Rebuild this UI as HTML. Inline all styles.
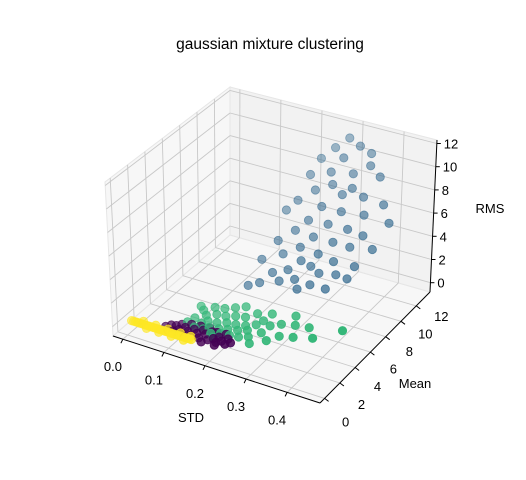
<!DOCTYPE html>
<html><head><meta charset="utf-8">
<style>
html,body{margin:0;padding:0;background:#fff;}
svg{display:block;font-family:"Liberation Sans",sans-serif;}
</style></head>
<body>
<svg id="chart" width="526" height="480" viewBox="0 0 526 480">
<text x="270" y="49" text-anchor="middle" font-size="15.5" fill="#000">gaussian mixture clustering</text>
<g id="panes"></g>
<g id="grid"></g>
<g id="axes"></g>
<g id="points"></g>
<text x="191" y="422" text-anchor="middle" font-size="13">STD</text>
<text x="415" y="388" text-anchor="middle" font-size="13">Mean</text>
<text x="490" y="213" text-anchor="middle" font-size="13">RMS</text>
</svg>
<script>
const xTicks = [0.0, 0.1, 0.2, 0.3, 0.4];
const xTickLabels = ["0.0","0.1","0.2","0.3","0.4"];
const yTicks = [0, 2, 4, 6, 8, 10, 12];
const yTickLabels = ["0","2","4","6","8","10","12"];
const zTicks = [0, 2, 4, 6, 8, 10, 12];
const zTickLabels = ["0","2","4","6","8","10","12"];

const bluePoints = [[0.30,12.2,11.8],[0.33,12.0,11.5],[0.28,11.5,11.2],[0.35,12.4,10.8],[0.31,11.0,10.9],[0.26,10.8,10.5],[0.36,11.8,10.2],[0.29,10.5,9.8],[0.33,11.2,9.6],[0.25,10.0,9.5],[0.38,12.0,9.3],[0.30,10.2,9.0],[0.34,10.6,8.8],[0.27,9.6,8.6],[0.32,10.4,8.2],[0.36,11.0,8.0],[0.24,9.0,7.8],[0.29,9.4,7.5],[0.40,11.5,7.4],[0.33,9.8,7.2],[0.22,8.6,7.0],[0.37,10.6,6.8],[0.27,8.8,6.5],[0.31,9.2,6.3],[0.42,11.2,6.2],[0.35,9.6,6.0],[0.25,8.2,5.8],[0.29,8.4,5.5],[0.38,10.0,5.5],[0.33,8.8,5.2],[0.22,7.6,5.0],[0.27,7.8,4.8],[0.36,9.4,4.7],[0.31,8.0,4.5],[0.40,10.2,4.4],[0.24,7.2,4.3],[0.28,7.4,4.0],[0.34,8.4,3.9],[0.20,6.6,3.8],[0.30,7.6,3.6],[0.38,9.0,3.5],[0.26,6.8,3.4],[0.32,7.6,3.2],[0.23,6.4,3.1],[0.35,8.2,3.0],[0.28,6.6,2.9],[0.25,6.2,2.7],[0.37,8.6,2.6],[0.31,7.0,2.5],[0.21,5.8,2.4],[0.29,6.4,2.3],[0.34,7.4,2.2],[0.19,5.4,2.2]];
const greenPoints = [[0.12,1.4,0.8],[0.13,1.8,1.0],[0.14,1.2,0.7],[0.15,1.6,0.9],[0.15,2.2,1.2],[0.16,1.3,0.7],[0.16,1.9,1.0],[0.17,2.5,1.3],[0.17,1.5,0.8],[0.18,2.0,1.0],[0.18,1.2,0.6],[0.19,2.6,1.3],[0.19,1.7,0.8],[0.20,2.2,1.1],[0.20,1.4,0.7],[0.21,2.8,1.4],[0.21,1.8,0.9],[0.22,2.3,1.1],[0.22,1.5,0.7],[0.23,3.0,1.4],[0.23,2.0,0.9],[0.24,2.5,1.1],[0.24,1.6,0.7],[0.25,2.2,1.0],[0.26,2.8,1.2],[0.26,1.8,0.8],[0.27,3.2,1.4],[0.28,2.4,1.0],[0.29,3.0,1.3],[0.30,2.0,0.8],[0.31,3.4,1.4],[0.32,2.6,1.0],[0.34,3.6,1.5],[0.35,2.8,1.1],[0.37,3.8,1.5],[0.39,3.2,1.2],[0.44,4.4,1.6],[0.14,2.4,1.4],[0.16,2.8,1.6],[0.18,3.0,1.6],[0.20,3.3,1.7],[0.13,2.6,1.5],[0.25,3.5,1.6],[0.28,3.8,1.7],[0.33,4.2,1.8],[0.22,3.6,1.8],[0.19,1.0,0.5],[0.27,1.4,0.6]];
const purplePoints = [[0.08,0.7,0.4],[0.09,0.9,0.5],[0.10,0.6,0.3],[0.10,1.0,0.5],[0.11,0.8,0.4],[0.12,1.1,0.5],[0.12,0.6,0.3],[0.13,0.9,0.4],[0.14,1.2,0.5],[0.14,0.7,0.3],[0.15,1.0,0.4],[0.16,1.3,0.6],[0.16,0.7,0.3],[0.17,1.1,0.5],[0.18,0.8,0.3],[0.18,1.4,0.6],[0.19,1.0,0.4],[0.20,1.2,0.5],[0.20,0.8,0.3],[0.21,1.0,0.4],[0.22,1.3,0.5],[0.22,0.9,0.3],[0.23,1.1,0.4],[0.11,1.2,0.6],[0.13,1.4,0.7],[0.15,1.5,0.7],[0.17,1.6,0.7],[0.19,1.5,0.6],[0.21,1.6,0.6],[0.09,0.5,0.3],[0.13,0.5,0.2],[0.17,0.5,0.2],[0.20,0.6,0.2]];
const yellowPoints = [[0.005,0.3,0.3],[0.010,0.3,0.3],[0.015,0.3,0.3],[0.020,0.3,0.3],[0.025,0.3,0.3],[0.030,0.3,0.3],[0.035,0.3,0.3],[0.040,0.3,0.3],[0.045,0.3,0.3],[0.050,0.3,0.3],[0.055,0.3,0.3],[0.060,0.3,0.3],[0.065,0.3,0.3],[0.070,0.3,0.3],[0.075,0.3,0.3],[0.080,0.3,0.3],[0.085,0.3,0.3],[0.090,0.3,0.3],[0.095,0.3,0.3],[0.100,0.3,0.3],[0.105,0.3,0.3],[0.110,0.3,0.3],[0.115,0.3,0.3],[0.120,0.3,0.3],[0.125,0.3,0.3],[0.130,0.3,0.3],[0.135,0.3,0.3],[0.140,0.3,0.3],[0.145,0.3,0.3],[0.150,0.3,0.3],[0.030,0.5,0.4],[0.060,0.5,0.4],[0.090,0.5,0.4],[0.120,0.5,0.4],[0.145,0.5,0.4],[0.045,0.1,0.2],[0.075,0.1,0.2],[0.105,0.1,0.2],[0.135,0.1,0.2]];

const NS = "http://www.w3.org/2000/svg";
const xMin=-0.024,xMax=0.48,yMin=-0.6,yMax=13.8,zMin=-0.8,zMax=12.3;
const C = {
 "000":[113,336],"100":[320,403],"110":[430,292],"010":[230,235],
 "001":[105,182],"101":[322,243],"111":[437,140],"011":[230,87]
};
function P(u,v,w){
  let x=0,y=0;
  for(const a of [0,1])for(const b of [0,1])for(const c of [0,1]){
    const f=(a?u:1-u)*(b?v:1-v)*(c?w:1-w);
    const p=C[""+a+b+c]; x+=f*p[0]; y+=f*p[1];
  }
  return [x,y];
}
const su=x=>(x-xMin)/(xMax-xMin), sv=y=>(y-yMin)/(yMax-yMin), sw=z=>(z-zMin)/(zMax-zMin);
function mk(tag,attrs,parent){const e=document.createElementNS(NS,tag);for(const k in attrs)e.setAttribute(k,attrs[k]);parent.appendChild(e);return e;}
function poly(pts){return pts.map(p=>p[0].toFixed(1)+","+p[1].toFixed(1)).join(" ");}

const panes=document.getElementById("panes");
let e;
e=mk("polygon",{points:poly([P(0,0,0),P(1,0,0),P(1,1,0),P(0,1,0)]),fill:"#f2f2f2","fill-opacity":"0.6",stroke:"#e6e6e6"},panes);


e=mk("polygon",{points:poly([P(0,0,0),P(0,1,0),P(0,1,1),P(0,0,1)]),fill:"#f2f2f2","fill-opacity":"0.6",stroke:"#e6e6e6"},panes);


e=mk("polygon",{points:poly([P(0,1,0),P(1,1,0),P(1,1,1),P(0,1,1)]),fill:"#ececec","fill-opacity":"0.7",stroke:"#e6e6e6"},panes);



const grid=document.getElementById("grid");
const gs={stroke:"#c8c8c8","stroke-width":"0.9",fill:"none"};
function gl(a,b,name){const l=mk("polyline",Object.assign({points:poly([a,b])},gs),grid);
  
  }
xTicks.forEach(t=>{const u=su(t);gl(P(u,0,0),P(u,1,0),"x-grid-line");gl(P(u,1,0),P(u,1,1),"x-grid-line");});
yTicks.forEach(t=>{const v=sv(t);gl(P(0,v,0),P(1,v,0),"y-grid-line");gl(P(0,v,0),P(0,v,1),"y-grid-line");});
zTicks.forEach(t=>{const w=sw(t);gl(P(0,0,w),P(0,1,w),"z-grid-line");gl(P(0,1,w),P(1,1,w),"z-grid-line");});

const axes=document.getElementById("axes");
function al(a,b,name){const l=mk("polyline",{points:poly([a,b]),stroke:"#000","stroke-width":"1",fill:"none"},axes);
  
  }
al(P(0,0,0),P(1,0,0),"x-axis-line");
al(P(1,0,0),P(1,1,0),"y-axis-line");
al(P(1,1,0),P(1,1,1),"z-axis-line");
function tl(x,y,s,anchor,name){const t=mk("text",{x:x.toFixed(1),y:y.toFixed(1),"font-size":"13","text-anchor":anchor,fill:"#000"},axes);t.textContent=s;
  
  }
xTicks.forEach((t,i)=>{const p=P(su(t),0,0);
  al(p,[p[0]-2,p[1]+4],"x-tick");
  tl(p[0]-10,p[1]+32,xTickLabels[i],"middle","x-tick-label");});
yTicks.forEach((t,i)=>{const p=P(1,sv(t),0);const f=t/12;
  al(p,[p[0]+4,p[1]+3],"y-tick");
  tl(p[0]+21+4*f,p[1]+28-13*f,yTickLabels[i],"middle","y-tick-label");});
zTicks.forEach((t,i)=>{const p=P(1,1,sw(t));
  al(p,[p[0]+4,p[1]],"z-tick");
  tl(p[0]+7,p[1]+5,zTickLabels[i],"start","z-tick-label");});

const pts=document.getElementById("points");
const all=[];
bluePoints.forEach(p=>all.push([p,"#31688e","blue-cluster-point"]));
greenPoints.forEach(p=>all.push([p,"#35b779","green-cluster-point"]));
purplePoints.forEach(p=>all.push([p,"#440154","purple-cluster-point"]));
yellowPoints.forEach(p=>all.push([p,"#fde725","yellow-cluster-point"]));
all.forEach(a=>{const u=su(a[0][0]),v=sv(a[0][1]);a.push(u-v);});
all.sort((a,b)=>a[3]-b[3]);
const dmin=Math.min(...all.map(a=>a[3])),dmax=Math.max(...all.map(a=>a[3]));
all.forEach(a=>{
  const p=P(su(a[0][0]),sv(a[0][1]),sw(a[0][2]));
  const al_=0.45+0.55*(a[3]-dmin)/(dmax-dmin);
  const c=mk("circle",{cx:p[0].toFixed(1),cy:p[1].toFixed(1),r:"4.2",fill:a[1],"fill-opacity":al_.toFixed(2),stroke:a[1],"stroke-opacity":al_.toFixed(2),"stroke-width":"0.8"},pts);
  
  
});
</script>
</body></html>
